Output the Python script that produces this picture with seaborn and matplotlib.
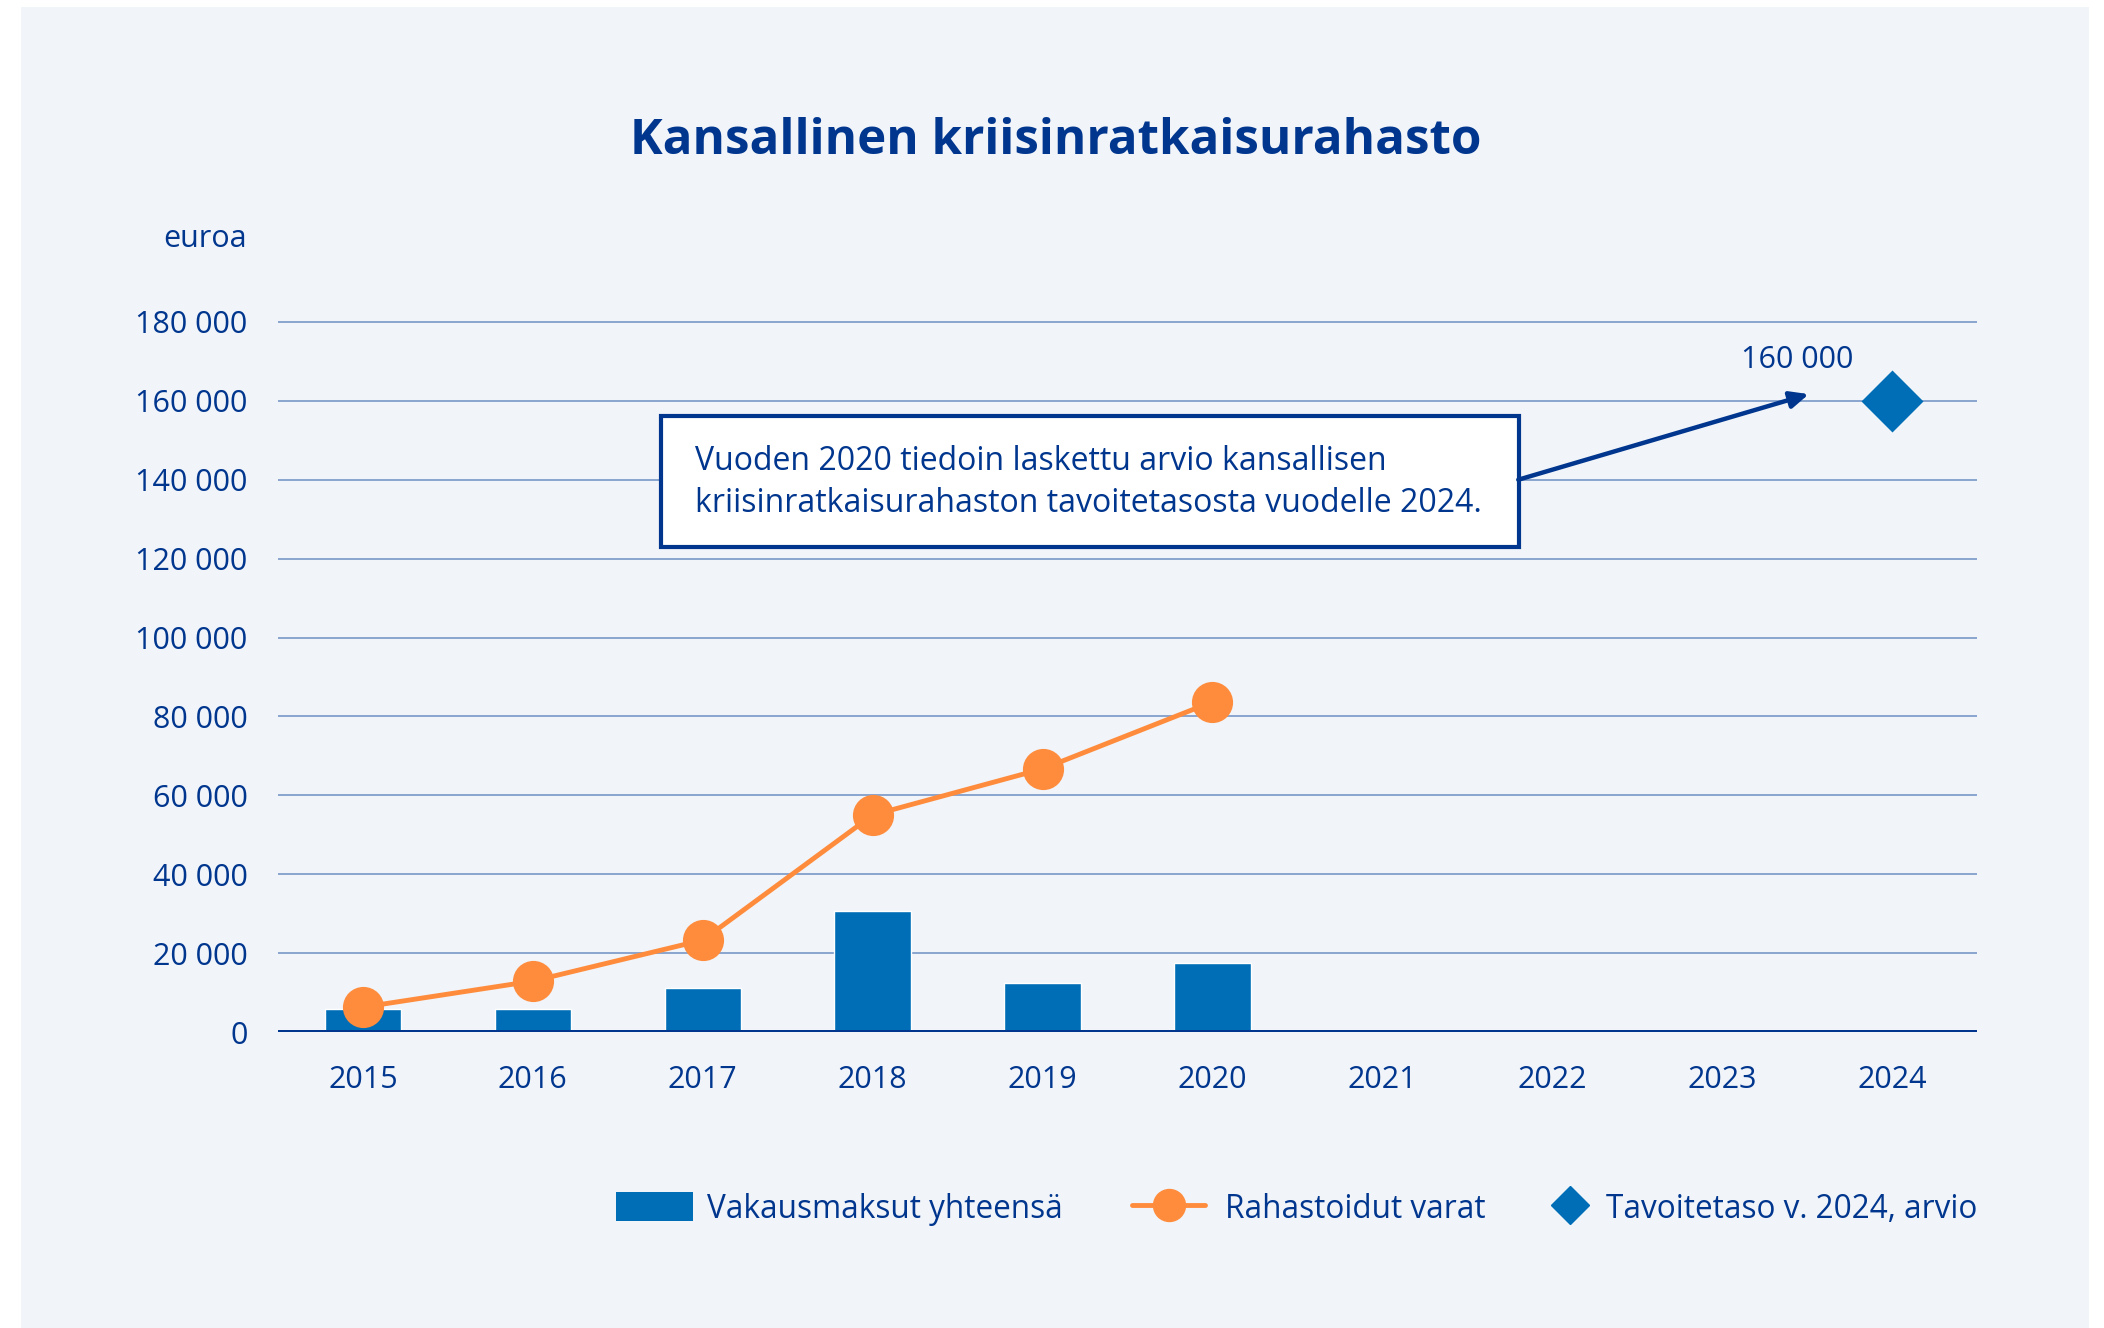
import numpy as np
import pandas as pd
import seaborn as sns
import matplotlib.pyplot as plt
from matplotlib.patches import Rectangle, Patch
from matplotlib.lines import Line2D
from matplotlib.ticker import FuncFormatter

# Data
YEARS = ['2015', '2016', '2017', '2018', '2019', '2020', '2021', '2022', '2023', '2024']
FEE_YEARS = ['2015', '2016', '2017', '2018', '2019', '2020']
FEES_TOTAL = [5800, 5800, 11200, 30800, 12400, 17500]          # Vakausmaksut yhteensä
FUND_ASSETS = [6300, 12900, 23300, 55000, 66700, 83700]         # Rahastoidut varat
TARGET_YEAR = ['2024']
TARGET_VALUE = [160000]                                         # Tavoitetaso v. 2024, arvio

TITLE = 'Kansallinen kriisinratkaisurahasto'
UNIT = 'euroa'
NOTE = ('Vuoden 2020 tiedoin laskettu arvio kansallisen\n'
        'kriisinratkaisurahaston tavoitetasosta vuodelle 2024.')
LEGEND_LABELS = ['Vakausmaksut yhteensä', 'Rahastoidut varat', 'Tavoitetaso v. 2024, arvio']

BAR_BLUE = '#006eb6'
ORANGE = '#ff8c3c'
DARK = '#00368e'
GRID = '#6c8fc3'
PANEL = '#f1f4f9'
FS = 22
FS_NOTE = 23
FS_LEG = 22.7

sns.set_style('white')
plt.rcParams['font.family'] = ['Open Sans', 'DejaVu Sans']

fees = pd.DataFrame({'year': FEE_YEARS, 'fees': FEES_TOTAL, 'assets': FUND_ASSETS})
target = pd.DataFrame({'year': TARGET_YEAR, 'value': TARGET_VALUE})

fig = plt.figure(figsize=(21.04, 13.28), dpi=100, facecolor='white')
fig.patches.append(Rectangle((21 / 2104, 0), 2068 / 2104, 1 - 7 / 1328,
                             transform=fig.transFigure, facecolor=PANEL,
                             edgecolor='none', zorder=-10))

ax = fig.add_axes([278 / 2104, 296 / 1328, 1699 / 2104, 714 / 1328])
ax.set_facecolor('none')

sns.barplot(data=fees, x='year', y='fees', order=YEARS, color=BAR_BLUE,
            saturation=1, width=0.45, ax=ax, zorder=3)
sns.pointplot(data=fees, x='year', y='assets', order=YEARS, color=ORANGE,
              markers='o', markersize=27, linewidth=3.5, errorbar=None,
              ax=ax, zorder=4)
sns.pointplot(data=target, x='year', y='value', order=YEARS, color=BAR_BLUE,
              markers='D', markersize=30, linestyles='none', errorbar=None,
              ax=ax, zorder=4)

ax.set_xlim(-0.5, 9.5)
ax.set_ylim(0, 181000)
ax.set_yticks(np.arange(0, 180001, 20000))
ax.yaxis.set_major_formatter(FuncFormatter(lambda v, p: f'{v:,.0f}'.replace(',', ' ')))
ax.grid(axis='y', color=GRID, linewidth=1.1, zorder=0)
ax.set_axisbelow(True)
ax.axhline(0, color=DARK, linewidth=3.6, zorder=5)
for s in ax.spines.values():
    s.set_visible(False)
ax.tick_params(axis='both', length=0, labelsize=FS, labelcolor=DARK)
ax.tick_params(axis='y', pad=22)
ax.tick_params(axis='x', pad=24)
ax.set_xlabel('')
ax.set_ylabel('')

# title and unit
fig.text(1056 / 2104, 1 - 142 / 1328, TITLE, ha='center', va='center',
         fontsize=35.5, fontweight='bold', color=DARK)
fig.text(247 / 2104, 1 - 239 / 1328, UNIT, ha='right', va='center',
         fontsize=FS, color=DARK)

# note box with arrow to target
ax.add_patch(Rectangle((1.754, 122940), 5.05, 33210, facecolor='white',
                       edgecolor=DARK, linewidth=3, zorder=6))
ax.text(1.954, 139300, NOTE, ha='left', va='center', fontsize=FS_NOTE,
        color=DARK, linespacing=1.38, zorder=7)
ax.annotate('', xy=(8.51, 161700), xytext=(6.80, 140000),
            arrowprops=dict(arrowstyle='-|>,head_length=1.1,head_width=0.5',
                            color=DARK, lw=3.2, shrinkA=0, shrinkB=0), zorder=7)
ax.text(8.44, 170300, f'{TARGET_VALUE[0]:,}'.replace(',', ' '), ha='center',
        va='center', fontsize=FS, color=DARK)

# legend: one entry per legend so each handle can have its own width
handles = [
    Patch(facecolor=BAR_BLUE, edgecolor='none'),
    Line2D([], [], color=ORANGE, linewidth=3.5, marker='o', markersize=23),
    Line2D([], [], color=BAR_BLUE, linestyle='none', marker='D', markersize=19),
]
handle_left = [616, 1132, 1552]        # px from left
handle_width = [77, 73, 36]            # px
handle_gap = [14, 20, 18]              # px between handle and text
em = FS_LEG * 100 / 72
for h, lab, x0, w, g in zip(handles, LEGEND_LABELS, handle_left, handle_width, handle_gap):
    fig.legend([h], [lab], loc='center left',
               bbox_to_anchor=(x0 / 2104, 1 - 1209 / 1328), frameon=False,
               fontsize=FS_LEG, labelcolor=DARK, handlelength=w / em,
               handleheight=32 / em, handletextpad=g / em,
               borderpad=0, borderaxespad=0)

fig.savefig('out.png', dpi=100, facecolor='white')
